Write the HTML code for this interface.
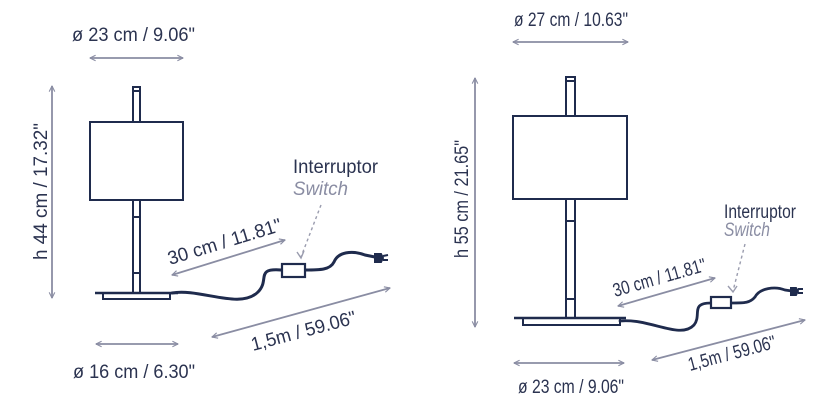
<!DOCTYPE html>
<html><head><meta charset="utf-8"><style>
html,body{margin:0;padding:0;background:#fff;width:828px;height:408px;overflow:hidden}
svg{display:block}
text{font-family:"Liberation Sans",sans-serif;fill:#2b3350;font-size:19px}
</style></head><body>
<svg width="828" height="408" viewBox="0 0 828 408" xmlns="http://www.w3.org/2000/svg">
<defs>
<marker id="a" viewBox="0 0 10 10" refX="9" refY="5" markerWidth="7" markerHeight="7" orient="auto-start-reverse" markerUnits="userSpaceOnUse"><path d="M1,1 L9,5 L1,9" fill="none" stroke="#8a8da3" stroke-width="1.6"/></marker>
</defs>
<g stroke="#8a8da3" stroke-width="1.8" fill="none" marker-start="url(#a)" marker-end="url(#a)">
<line x1="90" y1="58" x2="183" y2="58"/>
<line x1="96" y1="344" x2="178" y2="344"/>
<line x1="52" y1="86" x2="52" y2="298"/>
<line x1="172" y1="275" x2="285" y2="240"/>
<line x1="212" y1="337" x2="390" y2="288"/>
<line x1="513" y1="42" x2="628" y2="42"/>
<line x1="514" y1="363" x2="624" y2="363"/>
<line x1="475" y1="78" x2="475" y2="327"/>
<line x1="618" y1="306" x2="715" y2="278"/>
<line x1="652" y1="360" x2="805" y2="320"/>
</g>
<g stroke="#9a9cae" stroke-width="1.4" fill="none" stroke-dasharray="3,3">
<path d="M321,205 L301,257"/><path d="M745,244 L733,291"/>
</g>
<g stroke="#9a9cae" stroke-width="1.4" fill="none"><path d="M297,252 L301,258 L304,251"/><path d="M728,286 L733,292 L737,286"/></g>
<!-- left lamp -->
<g stroke="#1f2b4d" stroke-width="2" fill="#fff">
<rect x="133" y="87" width="7" height="206"/>
<line x1="133" y1="91" x2="140" y2="91"/>
<rect x="90" y="122" width="93" height="78"/>
<line x1="133" y1="217" x2="140" y2="217"/><line x1="133" y1="273" x2="140" y2="273"/>
<rect x="103" y="293" width="67" height="6"/>
<line x1="95" y1="293" x2="178" y2="293" stroke-width="2.6"/>
</g>
<g stroke="#1f2b4d" fill="none" stroke-width="3" stroke-linecap="round">
<path d="M172,293 C200,288 240,310 258,292 C270,280 255,268 281,270"/>
<path d="M305,270 C320,270 330,270 334,262 C338,252 352,250 365,255 L375,257"/>
</g>
<rect x="282" y="264" width="23" height="13" fill="#fff" stroke="#1f2b4d" stroke-width="2.2"/>
<g stroke="#1f2b4d" stroke-width="2" fill="#1f2b4d"><path d="M375,254 L381,254 L383,258 L381,262 L375,262 Z"/><line x1="383" y1="256" x2="388" y2="255"/><line x1="383" y1="260" x2="388" y2="260"/></g>
<!-- right lamp -->
<g stroke="#1f2b4d" stroke-width="2" fill="#fff">
<rect x="566" y="77" width="9" height="241"/>
<line x1="566" y1="81" x2="575" y2="81"/>
<rect x="513" y="116" width="114" height="83"/>
<line x1="566" y1="221" x2="575" y2="221"/><line x1="566" y1="299" x2="575" y2="299"/>
<rect x="523" y="318" width="97" height="7"/>
<line x1="514" y1="318" x2="626" y2="318" stroke-width="2.6"/>
</g>
<g stroke="#1f2b4d" fill="none" stroke-width="2.8" stroke-linecap="round">
<path d="M620,321 C650,318 680,340 694,325 C702,315 690,303 711,303"/>
<path d="M731,303 C745,303 750,303 755,297 C760,288 775,286 785,290 L792,291"/>
</g>
<rect x="711" y="297" width="20" height="11" fill="#fff" stroke="#1f2b4d" stroke-width="2.2"/>
<g stroke="#1f2b4d" stroke-width="2" fill="#1f2b4d"><path d="M791,288 L796,288 L798,291 L796,295 L791,295 Z"/><line x1="798" y1="289" x2="803" y2="289"/><line x1="798" y1="293" x2="803" y2="293"/></g>
<!-- text -->
<text x="72" y="41" textLength="123" lengthAdjust="spacingAndGlyphs">ø 23 cm / 9.06"</text>
<text x="73" y="378" textLength="122" lengthAdjust="spacingAndGlyphs">ø 16 cm / 6.30"</text>
<text transform="translate(47,260) rotate(-90)" textLength="137" lengthAdjust="spacingAndGlyphs">h 44 cm / 17.32"</text>
<text x="293" y="173" textLength="85" lengthAdjust="spacingAndGlyphs">Interruptor</text>
<text x="293" y="195" font-style="italic" style="fill:#8a8da3" textLength="55" lengthAdjust="spacingAndGlyphs">Switch</text>
<text transform="translate(170,265) rotate(-17)" textLength="118" lengthAdjust="spacingAndGlyphs">30 cm / 11.81"</text>
<text transform="translate(253,351) rotate(-15)" textLength="108" lengthAdjust="spacingAndGlyphs">1,5m / 59.06"</text>
<text x="514" y="26" font-size="17" textLength="114" lengthAdjust="spacingAndGlyphs">ø 27 cm / 10.63"</text>
<text x="518" y="393" font-size="17" textLength="106" lengthAdjust="spacingAndGlyphs">ø 23 cm / 9.06"</text>
<text transform="translate(468,258) rotate(-90)" font-size="17" textLength="118" lengthAdjust="spacingAndGlyphs">h 55 cm / 21.65"</text>
<text x="724" y="218" font-size="17" textLength="72" lengthAdjust="spacingAndGlyphs">Interruptor</text>
<text x="724" y="236" font-size="17" font-style="italic" style="fill:#8a8da3" textLength="46" lengthAdjust="spacingAndGlyphs">Switch</text>
<text transform="translate(615,297) rotate(-16)" font-size="17" textLength="96" lengthAdjust="spacingAndGlyphs">30 cm / 11.81"</text>
<text transform="translate(690,371) rotate(-15)" font-size="17" textLength="90" lengthAdjust="spacingAndGlyphs">1,5m / 59.06"</text>
</svg>
</body></html>
